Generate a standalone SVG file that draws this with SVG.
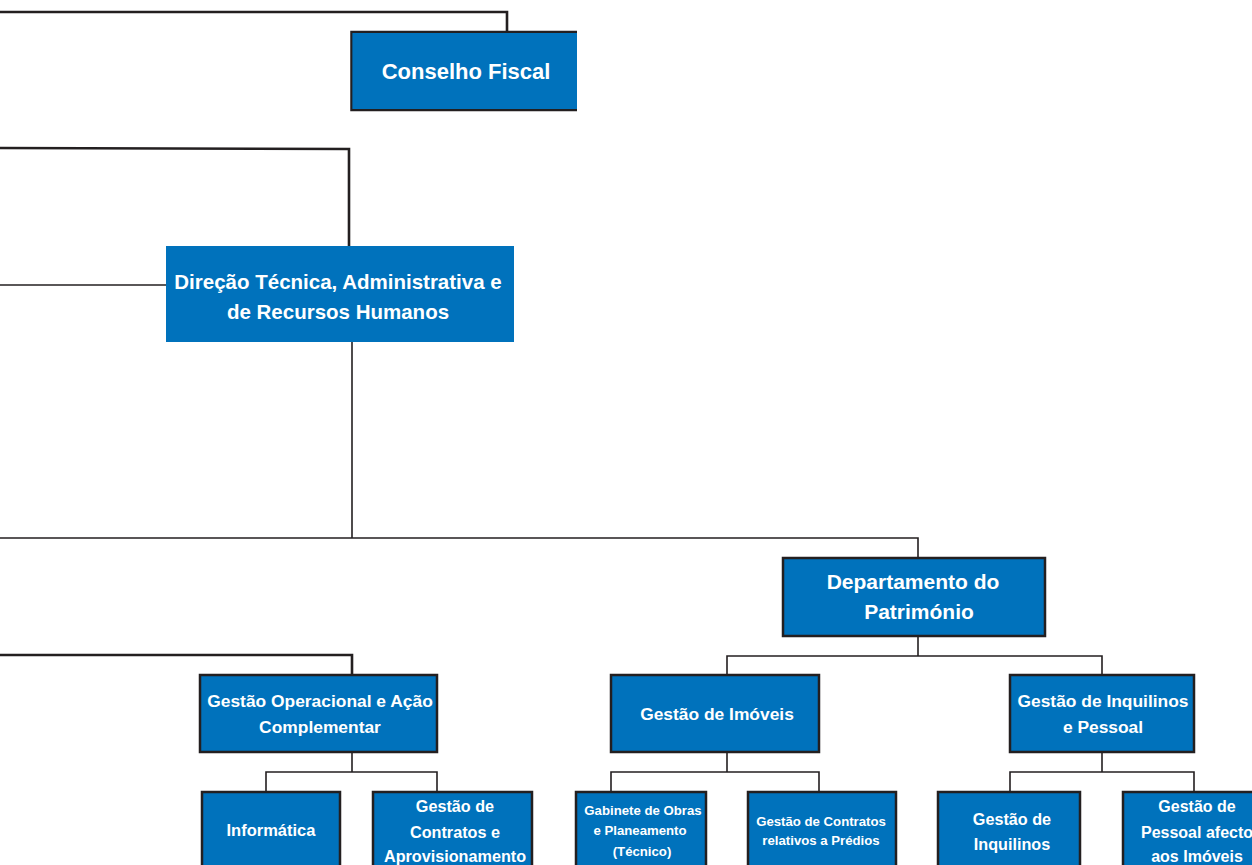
<svg xmlns="http://www.w3.org/2000/svg" width="1252" height="865" viewBox="0 0 1252 865">
<style>
.box{fill:#0072bc;stroke:#231f20;stroke-width:2.5}
.nb{fill:#0072bc}
.t{fill:#fff;font-family:"Liberation Sans",Arial,sans-serif;font-weight:bold;text-anchor:middle}
.c{fill:none;stroke:#231f20;stroke-width:1.6}
.ck{fill:none;stroke:#231f20;stroke-width:2.6}
</style>
<rect width="1252" height="865" fill="#fff"/>
<g id="connectors">
<polyline class="ck" points="0,12 507,12 507,32"/>
<polyline class="ck" points="0,148 349,149 349,246"/>
<line class="c" x1="0" y1="285" x2="166" y2="285"/>
<line class="c" x1="352" y1="342" x2="352" y2="538"/>
<polyline class="c" points="0,538 918,538 918,558"/>
<polyline class="ck" points="0,655 352,655 352,675"/>
<line class="c" x1="918" y1="636" x2="918" y2="656"/>
<polyline class="c" points="727,675 727,656 1102,656 1102,675"/>
<line class="c" x1="352" y1="752" x2="352" y2="772"/>
<polyline class="c" points="266,792 266,772 437,772 437,792"/>
<line class="c" x1="727" y1="752" x2="727" y2="772"/>
<polyline class="c" points="611,792 611,772 819,772 819,792"/>
<line class="c" x1="1102" y1="752" x2="1102" y2="772"/>
<polyline class="c" points="1010,792 1010,772 1194,772 1194,792"/>
</g>
<g id="conselho-fiscal">
<path class="box" d="M577,32 H351.5 V110 H577"/>
<path class="nb" d="M352.5,33 H577 V109 H352.5 Z"/>
<text class="t" x="466" y="79" font-size="22">Conselho Fiscal</text>
</g>
<g id="direcao">
<rect class="nb" x="166" y="246" width="348" height="96"/>
<text class="t" x="338" y="289" font-size="20.5">Direção Técnica, Administrativa e</text>
<text class="t" x="338" y="319" font-size="20.5">de Recursos Humanos</text>
</g>
<g id="departamento">
<rect class="box" x="783" y="558" width="262" height="78"/>
<text class="t" x="913" y="589" font-size="21">Departamento do</text>
<text class="t" x="919" y="619" font-size="21">Património</text>
</g>
<g id="gestao-operacional">
<rect class="box" x="200" y="675" width="237" height="77"/>
<text class="t" x="320" y="707" font-size="17.4">Gestão Operacional e Ação</text>
<text class="t" x="320" y="733" font-size="17.4">Complementar</text>
</g>
<g id="gestao-imoveis">
<rect class="box" x="611" y="675" width="208" height="77"/>
<text class="t" x="717" y="720" font-size="17.4">Gestão de Imóveis</text>
</g>
<g id="gestao-inquilinos-pessoal">
<rect class="box" x="1010" y="675" width="184" height="77"/>
<text class="t" x="1103" y="707" font-size="17.4">Gestão de Inquilinos</text>
<text class="t" x="1103" y="733" font-size="17.4">e Pessoal</text>
</g>
<g id="informatica">
<rect class="box" x="202" y="792" width="138" height="90"/>
<text class="t" x="271" y="836" font-size="16.5">Informática</text>
</g>
<g id="contratos-aprovisionamento">
<rect class="box" x="373" y="792" width="159" height="90"/>
<text class="t" x="455" y="812" font-size="16.2">Gestão de</text>
<text class="t" x="455" y="838" font-size="16.2">Contratos e</text>
<text class="t" x="455" y="862" font-size="16.2">Aprovisionamento</text>
</g>
<g id="gabinete-obras">
<rect class="box" x="576" y="792" width="130" height="90"/>
<text class="t" x="643" y="815" font-size="13.2">Gabinete de Obras</text>
<text class="t" x="640" y="835" font-size="13.2">e Planeamento</text>
<text class="t" x="642" y="856" font-size="13.2">(Técnico)</text>
</g>
<g id="contratos-predios">
<rect class="box" x="748" y="792" width="148" height="90"/>
<text class="t" x="821" y="826" font-size="13.2">Gestão de Contratos</text>
<text class="t" x="821" y="845" font-size="13.2">relativos a Prédios</text>
</g>
<g id="gestao-inquilinos">
<rect class="box" x="938" y="792" width="142" height="90"/>
<text class="t" x="1012" y="825" font-size="16.2">Gestão de</text>
<text class="t" x="1012" y="850" font-size="16.2">Inquilinos</text>
</g>
<g id="pessoal-imoveis">
<rect class="box" x="1123" y="792" width="140" height="90"/>
<text class="t" x="1197" y="812" font-size="16">Gestão de</text>
<text class="t" x="1197" y="838" font-size="16">Pessoal afecto</text>
<text class="t" x="1197" y="862" font-size="16">aos Imóveis</text>
</g>
</svg>
